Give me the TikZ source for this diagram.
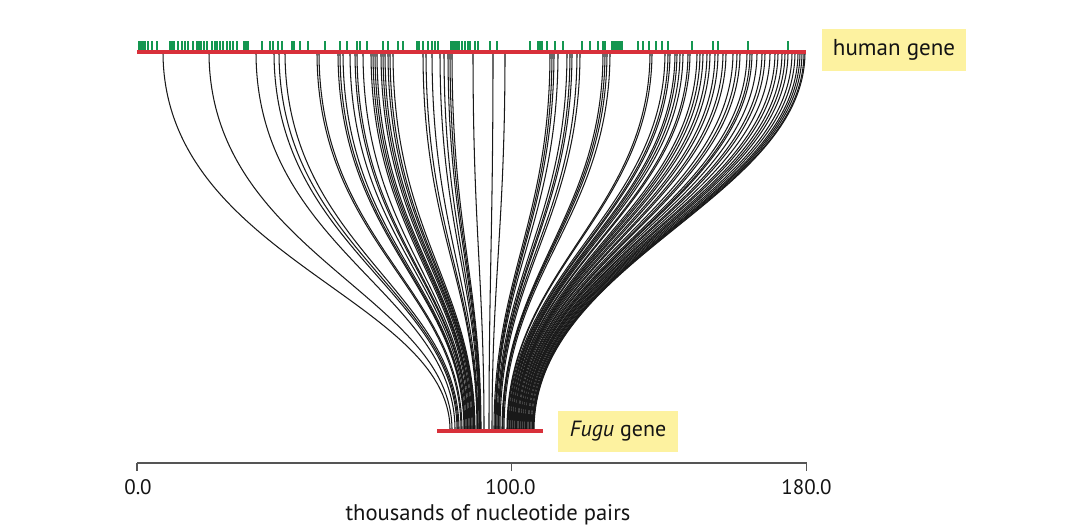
\documentclass[tikz,border=0pt]{standalone}
\usepackage{fontspec}
\setmainfont{PT Sans}
\definecolor{genered}{RGB}{216,48,58}
\definecolor{exongreen}{RGB}{20,150,80}
\definecolor{labelyellow}{RGB}{253,242,160}
\definecolor{axisgray}{RGB}{85,85,85}
\definecolor{textdark}{RGB}{20,20,20}
\begin{document}
\begin{tikzpicture}[x=1pt,y=-1pt,
  curve/.style={black!90,line width=1.05pt},
  genebar/.style={genered,line width=4pt},
  exon/.style={exongreen,line width=2pt},
  axisline/.style={axisgray,line width=1.3pt},
  genelabel/.style={fill=labelyellow,text=textdark,inner sep=0pt,minimum height=41pt},
  ticklabel/.style={text=textdark,font=\fontsize{21}{25}\selectfont,anchor=base,inner sep=0pt}]
\useasboundingbox (0,0) rectangle (1070,526);
% connecting curves
\foreach \a/\b in {163/450,209/452,256/455,274/457,279/458,285/459,317/461,319/462,338/464,343/465,350/466,355/467,363/468,371/469,373/470,377/471,381/472,383/473,388/474,393/475,423/477,432/478,440/479,448/480,452/481,
473/484,493/489,505/492,
550/494,552/495,558/496,567/497,570/498,577/499,580/500,603/502,607/503,610/504,
650/507,665/508,668/509,675/510,677/511,683/512,688/513,697/514,700/515,707/516,715/517,718/518,723/519,733/520,737/521,747/522,750/523,757/524,762/525,770/526,778/527,782/528,785/529,792/530,795/531,798/532,802/533,805/534,
340/464.5,357/467.5,375/470.5,385/473.5,390/474.5,426/477.5,444/479.5,450/480.5,
554/495.5,572/498.5,605/502.5,
652/507.5,670/509.5,680/511.5,690/513.5,703/515.5,710/516.5,726/519.5,740/521.5,752/523.5,765/525.5,775/526.5,788/529.5,800/532.5,804/533.5}{
  \pgfmathsetmacro\s{(\a-137)/669}
  \pgfmathsetmacro\ca{260-60*\s}
  \pgfmathsetmacro\cb{300-40*\s}
  \draw[curve] (\a,52) .. controls (\a,\ca) and (\b,\cb) .. (\b,430);
}
% exons on human gene
\foreach \x in {139,141,143,145,148,152,157,170,172,174,178,182,185,188,193,197,199,201,204,207,212,215,217,220,223,227,230,233,237,244,246,248,262,270,273,278,282,292,294,300,308,325,340,347,357,360,367,383,388,398,403,417,419,423,428,432,435,438,451,453,455,457,459,462,465,468,470,475,478,490,497,530,538,540,542,547,555,563,582,590,598,603,605,612,614,616,618,620,622,638,643,649,656,662,668,692,713,718,748,788}{
  \draw[exon] (\x,41.5) -- (\x,50);
}
% gene bars
\coordinate (hL) at (137,52);
\coordinate (hR) at (806,52);
\coordinate (fL) at (437,431);
\coordinate (fR) at (543,431);
\draw[genebar] (hL) -- (hR);
\draw[genebar] (fL) -- (fR);
% labels
\node[genelabel,font=\fontsize{23}{27}\selectfont,minimum width=144pt,minimum height=42pt] (human) at (894,50) {human gene};
\node[genelabel,font=\fontsize{22}{26}\selectfont,minimum width=120pt] (fugu) at (618,431.5) {\textit{Fugu} gene};
% axis
\coordinate (a0) at (137,463);
\coordinate (a1) at (511.5,463);
\coordinate (a2) at (806.5,463);
\draw[axisline] (a0) -- (a2);
\foreach \c in {a0,a1,a2}{\draw[axisline] (\c) -- ++(0,7.5);}
\node[ticklabel] (l0) at (138,494) {0.0};
\node[ticklabel] (l1) at (510.5,494) {100.0};
\node[ticklabel] (l2) at (806.5,494) {180.0};
\node[ticklabel,font=\fontsize{22.6}{27}\selectfont] (xlabel) at (488,520) {thousands of nucleotide pairs};
\end{tikzpicture}
\end{document}
